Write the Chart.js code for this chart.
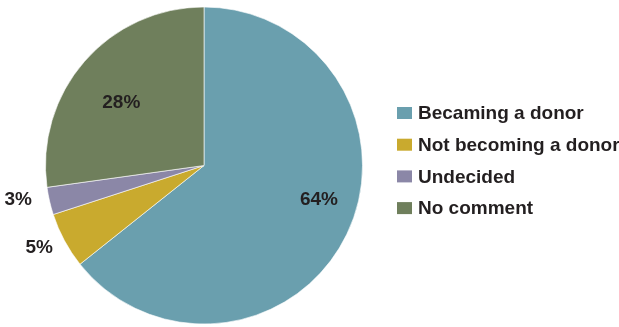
<!DOCTYPE html>
<html>
<head>
<meta charset="utf-8">
<script src="https://cdn.jsdelivr.net/npm/chart.js@4/dist/chart.umd.min.js"></script>
<style>
html,body{margin:0;padding:0;background:#fff;}
#wrap{position:relative;width:619px;height:327px;}
</style>
</head>
<body>
<div id="wrap"><canvas id="c" width="619" height="327"></canvas></div>
<script>
const categories = ["Becaming a donor", "Not becoming a donor", "Undecided", "No comment"];
const values = [64.3, 5.7, 2.8, 27.2];
const valueLabels = ["64%", "5%", "3%", "28%"];
const colors = ["#6a9fae", "#c9aa2e", "#8b87a7", "#6f7f5c"];

const FONT = '"Liberation Sans", Arial, Helvetica, sans-serif';

const labelPlugin = {
  id: 'sliceLabels',
  afterDatasetsDraw(chart, args, opts) {
    const ctx = chart.ctx;
    const meta = chart.getDatasetMeta(0);
    const nudges = opts.nudges || [];
    ctx.save();
    ctx.font = 'bold 19px ' + FONT;
    ctx.fillStyle = '#231f20';
    ctx.textAlign = 'center';
    ctx.textBaseline = 'middle';
    const total = values.reduce((a,b)=>a+b,0);
    meta.data.forEach((arc, i) => {
      const p = arc.getProps(['x','y','startAngle','endAngle','outerRadius'], true);
      const mid = (p.startAngle + p.endAngle) / 2;
      const frac = values[i] / total;
      const r = frac > 0.1 ? p.outerRadius * 0.7 : p.outerRadius + 24;
      const n = nudges[i] || [0, 0];
      const x = p.x + Math.cos(mid) * r + n[0];
      const y = p.y + Math.sin(mid) * r + n[1];
      ctx.fillText(valueLabels[i], x, y);
    });
    ctx.restore();
  }
};

const legendPlugin = {
  id: 'sideLegend',
  afterDraw(chart) {
    const ctx = chart.ctx;
    ctx.save();
    ctx.font = 'bold 19px ' + FONT;
    ctx.textBaseline = 'middle';
    ctx.textAlign = 'left';
    categories.forEach((c, i) => {
      const cy = 113 + i * 31.7;
      ctx.fillStyle = colors[i];
      ctx.fillRect(397, cy - 6, 15, 12);
      ctx.fillStyle = '#231f20';
      ctx.fillText(c, 418, cy + 1);
    });
    ctx.restore();
  }
};

new Chart(document.getElementById('c'), {
  type: 'pie',
  data: {
    labels: categories,
    datasets: [{
      data: values,
      backgroundColor: colors,
      borderColor: 'rgba(255,255,255,0.6)',
      borderWidth: 1
    }]
  },
  options: {
    responsive: false,
    animation: false,
    layout: { padding: { left: 45, right: 256, top: 6, bottom: 2 } },
    plugins: {
      legend: { display: false },
      tooltip: { enabled: false },
      sliceLabels: { nudges: [[15, -14], [-4, -4], [-8, -7], [1, 10]] }
    }
  },
  plugins: [labelPlugin, legendPlugin]
});
</script>
</body>
</html>
